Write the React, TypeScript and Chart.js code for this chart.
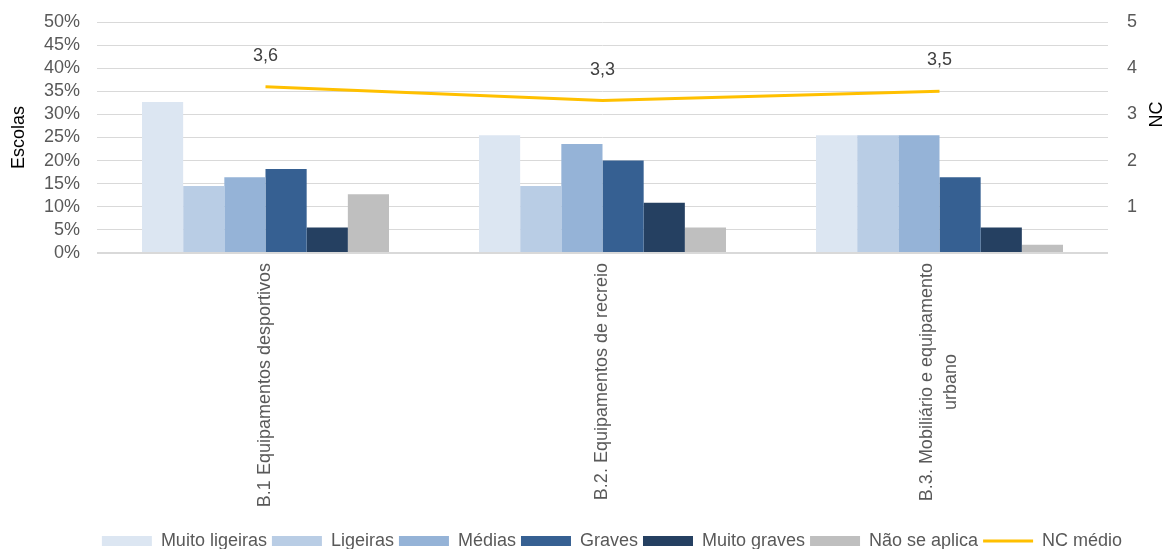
import React, { useEffect, useRef } from "react";
import { Chart, registerables } from "chart.js";

Chart.register(...registerables);

const FONT = "'Liberation Sans', Arial, sans-serif";

const categories: (string | string[])[] = [
  "B.1 Equipamentos desportivos",
  "B.2. Equipamentos de recreio",
  ["B.3. Mobiliário e equipamento", "urbano"],
];
const seriesNames = ["Muito ligeiras", "Ligeiras", "Médias", "Graves", "Muito graves", "Não se aplica"];
const muitoLigeiras = [32.7, 25.5, 25.5];
const ligeiras = [14.5, 14.5, 25.5];
const medias = [16.4, 23.6, 25.5];
const graves = [18.2, 20.0, 16.4];
const muitoGraves = [5.5, 10.9, 5.5];
const naoSeAplica = [12.7, 5.5, 1.8];
const ncMedio = [3.6, 3.3, 3.5];
const lineName = "NC médio";
const leftTitle = "Escolas";
const rightTitle = "NC";
const barColors = ["#DCE6F2", "#B9CDE5", "#95B3D7", "#366092", "#254061", "#BFBFBF"];
const lineColor = "#FFC000";

const fmt = (v: number) => v.toFixed(1).replace(".", ",");

const legendShift = {
  id: "legendShift",
  afterLayout(chart: any) {
    if (chart.legend) {
      chart.legend.left += 28;
      chart.legend.right += 28;
    }
  },
};

const customText = {
  id: "customText",
  afterDraw(chart: any) {
    const ctx = chart.ctx;
    const area = chart.chartArea;
    const xs = chart.scales.x;
    const y1 = chart.scales.y1;
    ctx.save();
    ctx.font = `18px ${FONT}`;
    // line value labels
    const meta = chart.getDatasetMeta(6);
    ctx.fillStyle = "#404040";
    ctx.textAlign = "center";
    ctx.textBaseline = "middle";
    meta.data.forEach((pt: any, i: number) => {
      ctx.fillText(fmt(ncMedio[i]), pt.x, pt.y - 31);
    });
    // category labels (rotated)
    ctx.fillStyle = "#595959";
    categories.forEach((lab, i) => {
      const lines = Array.isArray(lab) ? lab : [lab];
      const cx = xs.getPixelForValue(i);
      const top = area.bottom + 10;
      const lh = 24;
      const w0 = ctx.measureText(lines[0]).width;
      lines.forEach((ln, j) => {
        const lx = cx + (j - (lines.length - 1) / 2) * lh;
        ctx.save();
        ctx.translate(lx, top);
        ctx.rotate(-Math.PI / 2);
        ctx.textBaseline = "middle";
        if (j === 0) {
          ctx.textAlign = "right";
          ctx.fillText(ln, 0, 0);
        } else {
          ctx.textAlign = "center";
          ctx.fillText(ln, -w0 / 2, 0);
        }
        ctx.restore();
      });
    });
    // axis titles
    ctx.fillStyle = "#000000";
    ctx.textAlign = "center";
    ctx.textBaseline = "middle";
    ctx.save();
    ctx.translate(19, (area.top + area.bottom) / 2);
    ctx.rotate(-Math.PI / 2);
    ctx.fillText(leftTitle, 0, 0);
    ctx.restore();
    ctx.save();
    ctx.translate(chart.width - 11, y1.getPixelForValue(3));
    ctx.rotate(-Math.PI / 2);
    ctx.fillText(rightTitle, 0, 0);
    ctx.restore();
    ctx.restore();
  },
};

export default function App() {
  const ref = useRef<HTMLCanvasElement>(null);
  useEffect(() => {
    document.body.style.margin = "0";
    const canvas = ref.current;
    if (!canvas) return;
    const barData = [muitoLigeiras, ligeiras, medias, graves, muitoGraves, naoSeAplica];
    const datasets: any[] = barData.map((d, i) => ({
      type: "bar",
      label: seriesNames[i],
      data: d,
      backgroundColor: barColors[i],
      borderWidth: 0,
      pointStyle: "rect",
      yAxisID: "y",
      categoryPercentage: 0.733,
      barPercentage: 1,
    }));
    datasets.push({
      type: "line",
      label: lineName,
      data: ncMedio,
      borderColor: lineColor,
      backgroundColor: lineColor,
      borderWidth: 3,
      pointRadius: 0,
      pointStyle: "line",
      tension: 0,
      yAxisID: "y1",
    });
    const chart = new Chart(canvas, {
      type: "bar",
      data: { labels: categories.map((c) => (Array.isArray(c) ? c.join(" ") : c)), datasets },
      options: {
        animation: false,
        responsive: true,
        maintainAspectRatio: false,
        layout: { padding: { top: 22, left: 0, right: 0, bottom: 0 } },
        font: { family: FONT },
        plugins: {
          tooltip: { enabled: false },
          legend: {
            position: "bottom",
            labels: {
              usePointStyle: true,
              pointStyleWidth: 50,
              boxHeight: 10,
              padding: 5,
              color: "#595959",
              font: { size: 18, family: FONT },
            },
          },
        },
        scales: {
          x: {
            grid: { display: false },
            border: { display: false },
            ticks: { display: false },
            afterFit: (s: any) => {
              const lh = s.chart.legend ? s.chart.legend.height : 28;
              s.height = s.chart.height - lh - 253;
            },
          },
          y: {
            position: "left",
            min: 0,
            max: 50,
            ticks: {
              stepSize: 5,
              autoSkip: false,
              padding: 6,
              color: "#595959",
              font: { size: 18, family: FONT },
              callback: (v: any) => v + "%",
            },
            grid: {
              drawTicks: true,
              tickLength: 11,
              tickColor: "rgba(0,0,0,0)",
              color: "#D9D9D9",
              lineWidth: (c: any) => (c.index === 0 ? 2 : 1),
            },
            border: { display: false },
            afterFit: (s: any) => {
              s.width = 97;
            },
          },
          y1: {
            position: "right",
            min: 0,
            max: 5,
            ticks: {
              stepSize: 1,
              autoSkip: false,
              padding: 6,
              color: "#595959",
              font: { size: 18, family: FONT },
              callback: (v: any) => (v === 0 ? "" : String(v)),
            },
            grid: { display: false, drawTicks: true, tickLength: 13, tickColor: "rgba(0,0,0,0)" },
            border: { display: false },
            afterFit: (s: any) => {
              s.width = 60;
            },
          },
        },
      } as any,
      plugins: [legendShift, customText],
    });
    return () => chart.destroy();
  }, []);
  return (
    <div style={{ width: 1168, height: 549, overflow: "hidden" }}>
      <div style={{ position: "relative", width: 1168, height: 560 }}>
        <canvas ref={ref} />
      </div>
    </div>
  );
}
